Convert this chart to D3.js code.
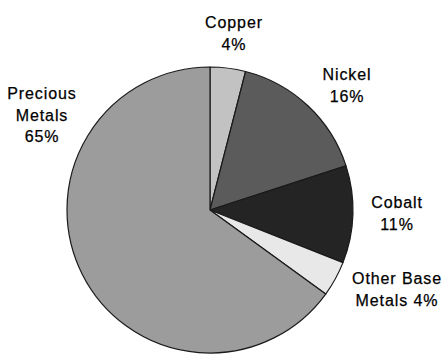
<!DOCTYPE html>
<html>
<head>
<meta charset="utf-8">
<script src="https://cdn.jsdelivr.net/npm/d3@7"></script>
<style>
  html, body { margin: 0; padding: 0; background: #fff; }
  svg { display: block; }
  text { font-family: "Liberation Sans", Arial, Helvetica, sans-serif; font-size: 16px; letter-spacing: 0.9px; fill: #000; stroke: #000; stroke-width: 0.25px; }
</style>
</head>
<body>
<script>
// Share of metal value by group (percent), clockwise from 12 o'clock
const categories = ["Copper", "Nickel", "Cobalt", "Other Base Metals", "Precious Metals"];
const shares = [4, 16, 11, 4, 65];
const fills = ["#c2c2c2", "#5b5b5b", "#242424", "#e8e8e8", "#9c9c9c"];
// Label lines per slice
const labelLines = [
  ["Copper", "4%"],
  ["Nickel", "16%"],
  ["Cobalt", "11%"],
  ["Other Base", "Metals 4%"],
  ["Precious", "Metals", "65%"]
];
// Label anchor (first baseline) per slice, in chart coordinates
const labelX = [234, 347, 397, 397, 42];
const labelY = [28, 80, 208, 284, 99];

const W = 445, H = 355;
const cx = 210, cy = 210, R = 143;

const svg = d3.select("body").append("svg").attr("width", W).attr("height", H);

const pie = d3.pie().sort(null).value(d => d.v);
const arcs = pie(categories.map((c, i) => ({ c, v: shares[i], i })));
const arc = d3.arc().innerRadius(0).outerRadius(R);

const g = svg.append("g").attr("transform", `translate(${cx},${cy})`);
g.selectAll("path")
  .data(arcs)
  .join("path")
  .attr("d", arc)
  .attr("fill", d => fills[d.data.i])
  .attr("stroke", "#1a1a1a")
  .attr("stroke-width", 1.2)
  .attr("stroke-linejoin", "round");

const lineH = 21.5;
const labels = svg.append("g");
labelLines.forEach((lines, i) => {
  const t = labels.append("text")
    .attr("text-anchor", "middle")
    .attr("x", labelX[i])
    .attr("y", labelY[i]);
  lines.forEach((s, k) => {
    t.append("tspan").attr("x", labelX[i]).attr("dy", k === 0 ? 0 : lineH).text(s);
  });
});
</script>
</body>
</html>
